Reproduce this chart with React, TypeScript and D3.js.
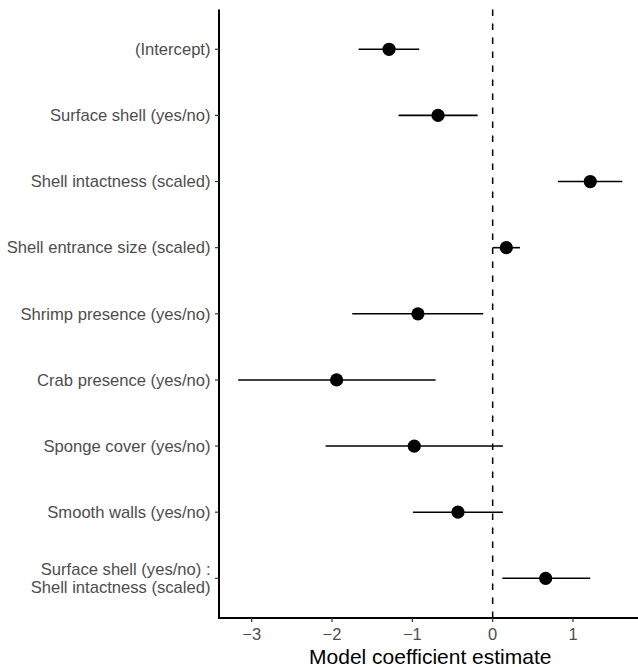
import React, { useEffect, useRef } from 'react';
import * as d3 from 'd3';

// coefficient names, top to bottom
const terms = [
  '(Intercept)',
  'Surface shell (yes/no)',
  'Shell intactness (scaled)',
  'Shell entrance size (scaled)',
  'Shrimp presence (yes/no)',
  'Crab presence (yes/no)',
  'Sponge cover (yes/no)',
  'Smooth walls (yes/no)',
  'Surface shell (yes/no) :\nShell intactness (scaled)',
];
const estimates = [-1.29, -0.68, 1.215, 0.17, -0.93, -1.943, -0.976, -0.432, 0.66];
const lower = [-1.669, -1.171, 0.813, 0.004, -1.748, -3.168, -2.08, -0.993, 0.12];
const upper = [-0.914, -0.187, 1.614, 0.34, -0.117, -0.71, 0.128, 0.128, 1.215];
const xTicks = [-3, -2, -1, 0, 1];

const App = () => {
  const svgRef = useRef<SVGSVGElement>(null);

  useEffect(() => {
    const boxWidth = 638;
    const boxHeight = 667;
    const margin = { top: 9.6, right: -3.5, bottom: 49, left: 219 };

    const svg = d3.select(svgRef.current);
    svg.selectAll('*').remove();
    svg.attr('width', boxWidth).attr('height', boxHeight);

    const data = terms.map((t, i) => ({ term: t, est: estimates[i], lo: lower[i], hi: upper[i] }));

    // ggplot-style 5% expansion on the data range
    const xmin = d3.min(lower) as number;
    const xmax = d3.max(upper) as number;
    const pad = (xmax - xmin) * 0.05;
    const x = d3.scaleLinear()
      .domain([xmin - pad, xmax + pad])
      .range([margin.left, boxWidth - margin.right]);

    const y = d3.scalePoint<string>()
      .domain(terms)
      .range([margin.top, boxHeight - margin.bottom])
      .padding(0.6);

    const bottom = boxHeight - margin.bottom;

    // zero reference line
    svg.append('line')
      .attr('x1', x(0)).attr('x2', x(0))
      .attr('y1', bottom).attr('y2', margin.top)
      .attr('stroke', 'black')
      .attr('stroke-width', 1.5)
      .attr('stroke-dasharray', '6.5,7.5');

    // error bars
    svg.selectAll('.ci')
      .data(data)
      .enter()
      .append('line')
      .attr('x1', d => x(d.lo))
      .attr('x2', d => x(d.hi))
      .attr('y1', d => y(d.term) as number)
      .attr('y2', d => y(d.term) as number)
      .attr('stroke', 'black')
      .attr('stroke-width', 1.6);

    svg.selectAll('.pt')
      .data(data)
      .enter()
      .append('circle')
      .attr('cx', d => x(d.est))
      .attr('cy', d => y(d.term) as number)
      .attr('r', 6.6)
      .attr('fill', 'black');

    // y axis
    svg.append('line')
      .attr('x1', margin.left).attr('x2', margin.left)
      .attr('y1', margin.top).attr('y2', bottom + 1)
      .attr('stroke', 'black').attr('stroke-width', 2);

    const yTickG = svg.append('g');
    terms.forEach(t => {
      const yy = y(t) as number;
      yTickG.append('line')
        .attr('x1', margin.left - 4).attr('x2', margin.left)
        .attr('y1', yy).attr('y2', yy)
        .attr('stroke', '#333333').attr('stroke-width', 1.2);
      const lines = t.split('\n');
      const lh = 18.5;
      const txt = yTickG.append('text')
        .attr('x', margin.left - 8.5)
        .attr('text-anchor', 'end')
        .attr('fill', '#4d4d4d')
        .style('font-size', '16.6px');
      lines.forEach((ln, k) => {
        txt.append('tspan')
          .attr('x', margin.left - 8.5)
          .attr('y', yy + (k - (lines.length - 1) / 2) * lh)
          .attr('dy', '0.35em')
          .text(ln);
      });
    });

    // x axis
    svg.append('line')
      .attr('x1', margin.left - 1).attr('x2', boxWidth)
      .attr('y1', bottom).attr('y2', bottom)
      .attr('stroke', 'black').attr('stroke-width', 2);

    xTicks.forEach(v => {
      svg.append('line')
        .attr('x1', x(v)).attr('x2', x(v))
        .attr('y1', bottom).attr('y2', bottom + 4)
        .attr('stroke', '#333333').attr('stroke-width', 1.2);
      svg.append('text')
        .attr('x', x(v))
        .attr('y', bottom + 21.5)
        .attr('text-anchor', 'middle')
        .attr('fill', '#4d4d4d')
        .style('font-size', '16.5px')
        .text(v < 0 ? '\u2212' + Math.abs(v) : String(v));
    });

    // x axis title
    svg.append('text')
      .attr('x', (margin.left + x.range()[1]) / 2)
      .attr('y', boxHeight - 3.5)
      .attr('text-anchor', 'middle')
      .attr('fill', 'black')
      .style('font-size', '21px')
      .text('Model coefficient estimate');
  }, []);

  return (
    <svg
      ref={svgRef}
      style={{ position: 'absolute', left: 0, top: 0, backgroundColor: 'white', fontFamily: '"Liberation Sans", Arial, sans-serif' }}
    ></svg>
  );
};

export default App;
